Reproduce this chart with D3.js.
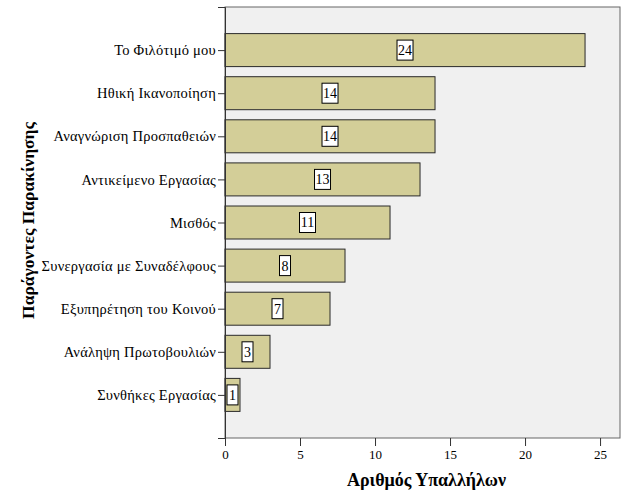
<!DOCTYPE html>
<html><head><meta charset="utf-8">
<script src="https://cdn.jsdelivr.net/npm/d3@7"></script>
<style>body{margin:0;background:#fff}svg{display:block}</style>
</head><body><svg id="c" width="629" height="504"></svg>
<script>
const categories = ["Το Φιλότιμό μου","Ηθική Ικανοποίηση","Αναγνώριση Προσπαθειών","Αντικείμενο Εργασίας","Μισθός","Συνεργασία με Συναδέλφους","Εξυπηρέτηση του Κοινού","Ανάληψη Πρωτοβουλιών","Συνθήκες Εργασίας"];
const values = [24,14,14,13,11,8,7,3,1];
const xTicks = [0,5,10,15,20,25];
const xTitle = "Αριθμός Υπαλλήλων";
const yTitle = "Παράγοντες Παρακίνησης";

const svg = d3.select("#c");
const L=225, R=620, T=7, B=438;
const font = "'Liberation Serif','Times New Roman',serif";
const x = d3.scaleLinear().domain([0,26.33]).range([L,R]);
const y = d3.scalePoint().domain(categories).range([T,B]).padding(1);
const bh = 33;

svg.append("rect").attr("x",L).attr("y",T).attr("width",R-L).attr("height",B-T)
  .attr("fill","#f0f0f0").attr("stroke","#666").attr("stroke-width",1);

svg.selectAll("rect.bar").data(values).join("rect").attr("class","bar")
  .attr("x",x(0)).attr("y",(d,i)=>y(categories[i])-bh/2)
  .attr("width",d=>x(d)-x(0)).attr("height",bh)
  .attr("fill","#d3ce98").attr("stroke","#2a2a2a").attr("stroke-width",1);

// y axis
const ya = svg.append("g").attr("transform",`translate(${L},0)`)
  .call(d3.axisLeft(y).tickSize(7).tickPadding(2));
ya.select(".domain").attr("stroke","#333");
ya.selectAll("line").attr("stroke","#333");
ya.selectAll("text").attr("font-family",font).attr("font-size",14.5)
  .attr("letter-spacing","0.25px").attr("fill","#000");

// x axis
const xa = svg.append("g").attr("transform",`translate(0,${B})`)
  .call(d3.axisBottom(x).tickValues(xTicks).tickSize(8).tickPadding(4));
xa.select(".domain").remove();
xa.selectAll("line").attr("stroke","#333");
xa.selectAll("text").attr("font-family",font).attr("font-size",13).attr("fill","#000");

// value labels
const lg = svg.selectAll("g.lab").data(values).join("g").attr("class","lab")
  .attr("transform",(d,i)=>`translate(${(x(0)+x(d))/2},${y(categories[i])})`);
lg.append("rect").attr("x",d=>String(d).length>1?-8:-5.5).attr("y",-10)
  .attr("width",d=>String(d).length>1?16:11).attr("height",20)
  .attr("fill","#fff").attr("stroke","#000").attr("stroke-width",1);
lg.append("text").text(d=>d).attr("text-anchor","middle").attr("dy","0.35em")
  .attr("font-family",font).attr("font-size",14).attr("fill","#000");

svg.append("text").text(xTitle).attr("x",(L+R)/2+4).attr("y",486).attr("text-anchor","middle")
  .attr("font-family",font).attr("font-size",18).attr("font-weight","bold");
svg.append("text").text(yTitle).attr("transform",`translate(34,${(T+B)/2-2}) rotate(-90)`)
  .attr("text-anchor","middle").attr("font-family",font).attr("font-size",17.5).attr("font-weight","bold");
</script></body></html>
